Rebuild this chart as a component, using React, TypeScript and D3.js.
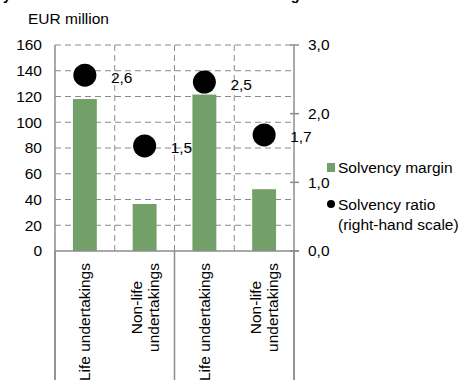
import React from "react";
import * as d3 from "d3";

const categories = ["Life undertakings", "Non-life undertakings", "Life undertakings", "Non-life undertakings"];
const categoryLines = [["Life undertakings"], ["Non-life", "undertakings"], ["Life undertakings"], ["Non-life", "undertakings"]];
const solvencyMargin = [118, 36.5, 121.5, 48];
const solvencyRatio = [2.56, 1.53, 2.46, 1.69];
const leftTicks = [0, 20, 40, 60, 80, 100, 120, 140, 160];
const rightTicks = [0, 1, 2, 3];
const seriesNames = ["Solvency margin", "Solvency ratio", "(right-hand scale)"];
const unitLabel = "EUR million";
const titleText = "Solvency of life and non-life insurance undertakings";

const W = 468;
const H = 380;
const L = 55, R = 294, T = 45, B = 251;
const FONT = "'Liberation Sans', Arial, sans-serif";
const FS = 15.5;
const GREEN = "#72a068";
const GRID = "#8a8a8a";
const AXIS = "#8c8c8c";

export default function App() {
  const x = d3.scaleBand<number>().domain(categories.map((_, i) => i)).range([L, R]).paddingInner(0).paddingOuter(0);
  const yL = d3.scaleLinear().domain([0, 160]).range([B, T]);
  const yR = d3.scaleLinear().domain([0, 3]).range([B, T]);
  const fmt = (v: number) => d3.format(".1f")(v).replace(".", ",");
  const step = x.step();
  const bw = step * 0.4;
  const boundaries = [1, 3].map((i) => x(i)!);
  const groupSeps = [L, x(2)!, R];

  return (
    <svg width={W} height={H} style={{ position: "absolute", left: 0, top: 0, background: "#fff" }} fontFamily={FONT}>
      <text x={-52.6} y={0} fontSize={14.5} fontWeight="bold" fill="#000">{titleText}</text>
      <text x={28} y={23.5} fontSize={FS} fill="#000">{unitLabel}</text>

      {/* horizontal grid */}
      {leftTicks.filter((t) => t > 0).map((t) => (
        <line key={"g" + t} x1={L} x2={R} y1={yL(t)} y2={yL(t)} stroke={GRID} strokeWidth={1} strokeDasharray="6,4" />
      ))}
      {/* vertical dashed grid */}
      {[...boundaries, x(2)!].map((bx, i) => (
        <line key={"v" + i} x1={bx} x2={bx} y1={T} y2={B} stroke={GRID} strokeWidth={1} strokeDasharray="6,4" />
      ))}

      {/* bars */}
      {solvencyMargin.map((v, i) => (
        <rect key={"b" + i} x={x(i)! + (step - bw) / 2} y={yL(v)} width={bw} height={B - yL(v)} fill={GREEN} />
      ))}

      {/* axes */}
      <line x1={L} x2={L} y1={T} y2={H} stroke={AXIS} strokeWidth={1.5} />
      <line x1={R} x2={R} y1={T} y2={H} stroke={AXIS} strokeWidth={1.5} />
      <line x1={L} x2={R + 5} y1={B} y2={B} stroke={AXIS} strokeWidth={1.5} />
      {groupSeps.map((gx, i) => (
        <line key={"s" + i} x1={gx} x2={gx} y1={B} y2={H} stroke={AXIS} strokeWidth={1.5} />
      ))}
      {rightTicks.map((t) => (
        <line key={"rt" + t} x1={R - 4} x2={R + 5} y1={yR(t)} y2={yR(t)} stroke={AXIS} strokeWidth={1.5} />
      ))}

      {/* left tick labels */}
      {leftTicks.map((t) => (
        <text key={"lt" + t} x={42} y={yL(t)} dy="0.35em" textAnchor="end" fontSize={FS} fill="#000">{t}</text>
      ))}
      {/* right tick labels */}
      {rightTicks.map((t) => (
        <text key={"rl" + t} x={308} y={yR(t)} dy="0.35em" textAnchor="start" fontSize={FS} fill="#000">{fmt(t)}</text>
      ))}

      {/* dots */}
      {solvencyRatio.map((v, i) => (
        <g key={"d" + i}>
          <circle cx={x(i)! + step / 2} cy={yR(v)} r={11.5} fill="#000" />
          <text x={x(i)! + step / 2 + 26} y={yR(v) + 2} dy="0.35em" fontSize={FS} fill="#000">{fmt(v)}</text>
        </g>
      ))}

      {/* category labels */}
      {categoryLines.map((lines, i) => {
        const cx = x(i)! + step / 2;
        if (lines.length === 1) {
          return (
            <text key={"c" + i} transform={`translate(${cx},263) rotate(-90)`} textAnchor="end" dy="0.35em" fontSize={FS} fill="#000">{lines[0]}</text>
          );
        }
        return (
          <g key={"c" + i}>
            {lines.map((ln, j) => (
              <text key={j} transform={`translate(${cx - 8.5 + j * 17},307.5) rotate(-90)`} textAnchor="middle" dy="0.35em" fontSize={FS} fill="#000">{ln}</text>
            ))}
          </g>
        );
      })}

      {/* legend */}
      <rect x={327} y={163} width={8} height={9} fill={GREEN} />
      <text x={338} y={172.5} fontSize={FS} fill="#000">{seriesNames[0]}</text>
      <circle cx={331} cy={204} r={4} fill="#000" />
      <text x={338} y={209.5} fontSize={FS} fill="#000">{seriesNames[1]}</text>
      <text x={338} y={229.5} fontSize={FS} fill="#000">{seriesNames[2]}</text>
    </svg>
  );
}
